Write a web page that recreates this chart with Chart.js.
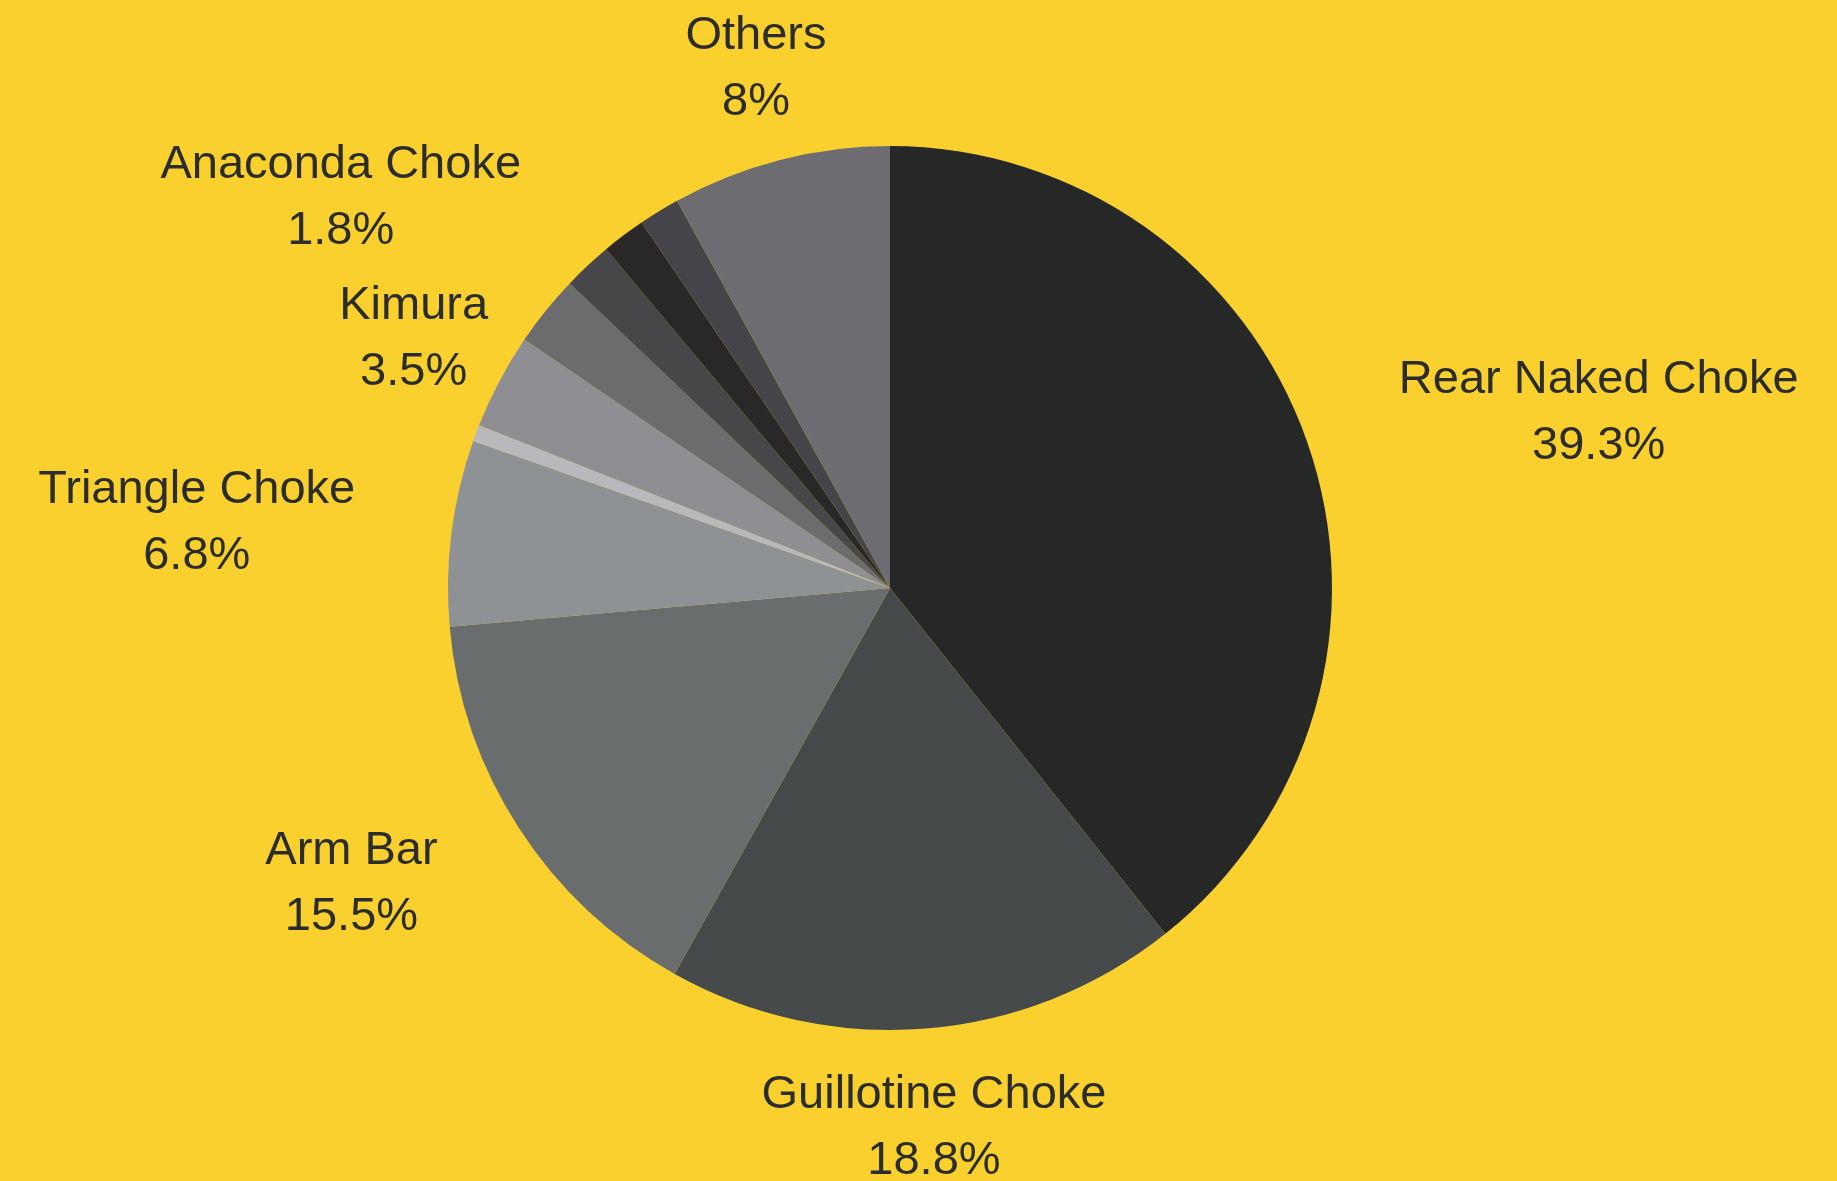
<!DOCTYPE html>
<html lang="en">
<head>
    <meta charset="utf-8">
    <script src="https://cdn.jsdelivr.net/npm/chart.js@4"></script>
    <style>
        html, body { margin: 0; padding: 0; background: #f9d02e; }
        .chart-container { position: relative; width: 1837px; height: 1181px; }
    </style>
</head>
<body>

<div class="chart-container">
    <canvas id="myChart"></canvas>
</div>

<script>
    // submissions, clockwise from the top
    var labels = ["Rear Naked Choke", "Guillotine Choke", "Arm Bar", "Triangle Choke", "Omoplata",
                  "Kimura", "Heel Hook", "Anaconda Choke", "D'Arce Choke", "Ezekiel Choke", "Others"];
    var values = [39.3, 18.8, 15.5, 6.8, 0.6, 3.5, 2.6, 1.8, 1.6, 1.5, 8];
    var colors = ["#262828", "#45494a", "#696d6e", "#8e9295", "#b8b9bd",
                  "#8f8f93", "#6c6c6f", "#474649", "#2a2728", "#454448", "#6d6d71"];

    // label alignment per slice, null = no label
    var labelAlign = ["left", "center", "right", "right", null,
                      "center", null, "right", null, null, "center"];

    var outLabels = {
        id: "outLabels",
        afterDatasetsDraw: function (chart) {
            var ctx = chart.ctx;
            var meta = chart.getDatasetMeta(0);
            ctx.save();
            ctx.font = "47px 'Liberation Sans', Arial, sans-serif";
            ctx.fillStyle = "#2b2d2d";
            ctx.textBaseline = "middle";
            meta.data.forEach(function (arc, i) {
                var align = labelAlign[i];
                if (!align) return;
                var mid = (arc.startAngle + arc.endAngle) / 2;
                var d = arc.outerRadius + 97;
                var x = arc.x + Math.cos(mid) * d;
                var y = arc.y + Math.sin(mid) * d + 3;
                var l1 = labels[i];
                var l2 = values[i] + "%";
                var w = Math.max(ctx.measureText(l1).width, ctx.measureText(l2).width);
                var cx = x;
                if (align === "left") cx = x + w / 2;
                if (align === "right") cx = x - w / 2;
                ctx.textAlign = "center";
                ctx.fillText(l1, cx, y - 33);
                ctx.fillText(l2, cx, y + 33);
            });
            ctx.restore();
        }
    };

    var ctx = document.getElementById("myChart").getContext("2d");
    var myChart = new Chart(ctx, {
        type: "pie",
        data: {
            labels: labels,
            datasets: [{
                data: values,
                backgroundColor: colors,
                borderWidth: 0
            }]
        },
        options: {
            responsive: true,
            maintainAspectRatio: false,
            animation: false,
            layout: { padding: { top: 146, bottom: 151, left: 0, right: 57 } },
            plugins: {
                legend: { display: false },
                tooltip: { enabled: false }
            }
        },
        plugins: [outLabels]
    });
</script>

</body>
</html>
